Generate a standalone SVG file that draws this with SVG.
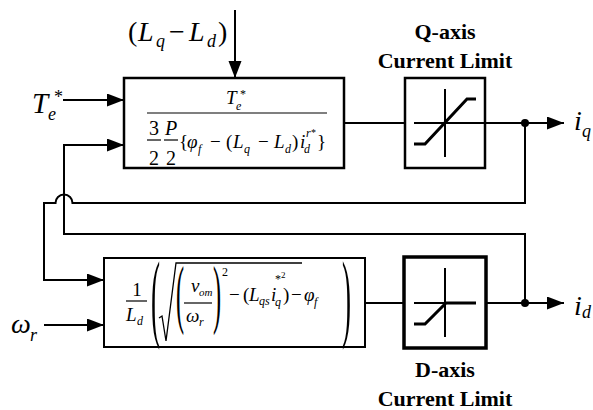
<svg xmlns="http://www.w3.org/2000/svg" width="593" height="410" viewBox="0 0 593 410">
<style>
.box{fill:#fff;stroke:#000;stroke-width:2.5}
.ln{fill:none;stroke:#000;stroke-width:2}
.thin{fill:none;stroke:#000;stroke-width:1.2}
.m{font-family:"Liberation Serif","Times New Roman",serif;fill:#000}
.it{font-style:italic}
.b17{font-size:19px}
.s11{font-size:12px}
.big{font-size:28px}
.sub{font-size:18px}
.lbl{font-family:"Liberation Serif","Times New Roman",serif;font-weight:bold;font-size:22px;text-anchor:middle;fill:#000}
</style>
<defs>
<marker id="ah" markerUnits="userSpaceOnUse" markerWidth="18" markerHeight="14" refX="17" refY="6.5" orient="auto">
<path d="M0,0 L17,6.5 L0,13 z" fill="#000"/>
</marker>
</defs>

<g id="connectors">
<line class="ln" x1="235" y1="10" x2="235" y2="78" marker-end="url(#ah)"/>
<line class="ln" x1="63" y1="100" x2="124" y2="100" marker-end="url(#ah)"/>
<path class="ln" d="M525,303 V234 H64 V145 H124" marker-end="url(#ah)"/>
<path class="ln" d="M525,123 V203 H72.5 A8.5,8.5 0 0 0 55.5,203 H44 V280 H104" marker-end="url(#ah)"/>
<line class="ln" x1="44" y1="325" x2="104" y2="325" marker-end="url(#ah)"/>
<line class="ln" x1="344" y1="123" x2="405" y2="123"/>
<line class="ln" x1="485" y1="123" x2="564" y2="123" marker-end="url(#ah)"/>
<line class="ln" x1="365" y1="303" x2="404" y2="303"/>
<line class="ln" x1="486" y1="303" x2="564" y2="303" marker-end="url(#ah)"/>
<circle cx="525" cy="123" r="4" fill="#000"/>
<circle cx="525" cy="303" r="4" fill="#000"/>
</g>

<g id="label-LqLd">
<text class="m big" x="128" y="41">(</text>
<text class="m big it" x="138" y="41">L</text>
<text class="m sub it" x="156" y="47">q</text>
<text class="m big" x="169" y="41">−</text>
<text class="m big it" x="189" y="41">L</text>
<text class="m sub it" x="207" y="47">d</text>
<text class="m big" x="218" y="41">)</text>
</g>

<g id="label-Te">
<text class="m big it" x="32" y="113" style="font-size:29px">T</text>
<text class="m sub it" x="48" y="120">e</text>
<text class="m sub" x="54" y="103">*</text>
</g>

<g id="label-wr">
<text class="m big it" x="11" y="333">ω</text>
<text class="m sub it" x="30" y="341">r</text>
</g>

<g id="label-iq">
<text class="m big it" x="574" y="130">i</text>
<text class="m sub it" x="582" y="137">q</text>
</g>

<g id="label-id">
<text class="m big it" x="574" y="315">i</text>
<text class="m sub it" x="582" y="318">d</text>
</g>

<g id="torque-block">
<rect class="box" x="124" y="78" width="220" height="90"/>
<text class="m b17 it" x="226" y="104">T</text>
<text class="m s11 it" x="236" y="110">e</text>
<text class="m s11" x="240" y="98">*</text>
<line class="thin" x1="147" y1="113" x2="327" y2="113"/>
<text class="m" x="154" y="135" style="font-size:20px;text-anchor:middle">3</text>
<line class="thin" x1="147" y1="140" x2="161" y2="140"/>
<text class="m" x="154" y="165" style="font-size:20px;text-anchor:middle">2</text>
<text class="m it" x="171" y="135" style="font-size:20px;text-anchor:middle">P</text>
<line class="thin" x1="164" y1="140" x2="178" y2="140"/>
<text class="m" x="171" y="165" style="font-size:20px;text-anchor:middle">2</text>
<text class="m b17" x="179" y="148">{</text>
<text class="m b17 it" x="187" y="148">φ</text>
<text class="m s11 it" x="198" y="153">f</text>
<text class="m b17" x="210" y="148">−</text>
<text class="m b17" x="226" y="148">(</text>
<text class="m b17 it" x="233" y="148">L</text>
<text class="m s11 it" x="244" y="153">q</text>
<text class="m b17" x="258" y="148">−</text>
<text class="m b17 it" x="274" y="148">L</text>
<text class="m s11 it" x="285" y="153">d</text>
<text class="m b17" x="292" y="148">)</text>
<text class="m b17 it" x="300" y="148">i</text>
<text class="m s11 it" x="304" y="153">d</text>
<text class="m s11 it" x="306" y="137">r</text>
<text class="m" x="311" y="136" style="font-size:10px">*</text>
<text class="m b17" x="317" y="148">}</text>
</g>

<g id="flux-block">
<rect class="box" x="104" y="258" width="261" height="89" style="stroke-width:2"/>
<text class="m b17" x="137" y="296" style="text-anchor:middle">1</text>
<line class="thin" x1="126" y1="301" x2="147" y2="301"/>
<text class="m b17 it" x="126" y="321">L</text>
<text class="m s11 it" x="137" y="325">d</text>
<text class="m" transform="translate(151,329) scale(0.28,1)" style="font-size:97px">(</text>
<polyline fill="none" stroke="#000" stroke-width="1.3" points="159,318 162,316 166,341 176,263 302,263"/>
<text class="m" transform="translate(176,319) scale(0.32,1)" style="font-size:76px">(</text>
<text class="m b17 it" x="191" y="292">v</text>
<text class="m it" x="199" y="296" style="font-size:11px">om</text>
<line class="thin" x1="184" y1="303" x2="212" y2="303"/>
<text class="m b17 it" x="186" y="322">ω</text>
<text class="m s11 it" x="199" y="326">r</text>
<text class="m" transform="translate(213,319) scale(0.32,1)" style="font-size:76px">)</text>
<text class="m s11" x="222" y="276">2</text>
<text class="m b17" x="229" y="301">−</text>
<text class="m b17" x="243" y="301">(</text>
<text class="m b17 it" x="249" y="301">L</text>
<text class="m s11 it" x="259" y="305">qs</text>
<text class="m b17 it" x="271" y="301">i</text>
<text class="m s11 it" x="275" y="306">q</text>
<text class="m s11" x="275" y="283">*</text>
<text class="m" x="281" y="278" style="font-size:9px">2</text>
<text class="m b17" x="283" y="301">)</text>
<text class="m b17" x="291" y="301">−</text>
<text class="m b17 it" x="304" y="301">φ</text>
<text class="m s11 it" x="314" y="306">f</text>
<text class="m" transform="translate(342,329) scale(0.28,1)" style="font-size:97px">)</text>
</g>

<g id="q-limit">
<text class="lbl" x="445" y="39">Q-axis</text>
<text class="lbl" x="445" y="68">Current Limit</text>
<rect class="box" x="405" y="78" width="80" height="90"/>
<line class="ln" x1="414" y1="123" x2="485" y2="123"/>
<line class="ln" x1="445" y1="89" x2="445" y2="157"/>
<polyline fill="none" stroke="#000" stroke-width="3" points="414,144 425,144 467,99 476,99"/>
</g>

<g id="d-limit">
<rect class="box" x="404" y="257" width="82" height="91" style="stroke-width:3.5"/>
<line class="ln" x1="414" y1="303" x2="476" y2="303"/>
<line class="ln" x1="445" y1="268" x2="445" y2="337"/>
<polyline fill="none" stroke="#000" stroke-width="3" points="414,324 425,324 446,303 476,303"/>
<text class="lbl" x="445" y="377">D-axis</text>
<text class="lbl" x="445" y="406">Current Limit</text>
</g>
</svg>
